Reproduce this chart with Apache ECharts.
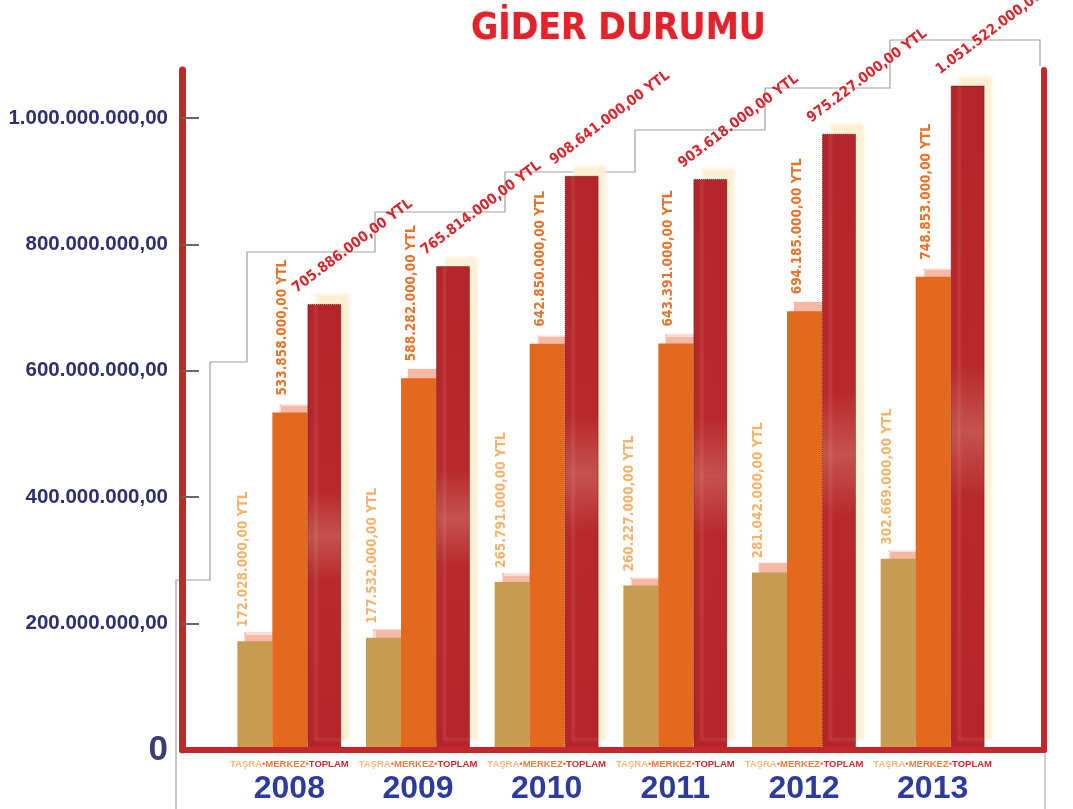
<!DOCTYPE html>
<html><head><meta charset="utf-8">
<script src="https://cdn.jsdelivr.net/npm/echarts@6/dist/echarts.min.js"></script>
<style>html,body{margin:0;padding:0;background:#fff}#c{width:1073px;height:809px}</style>
</head><body><div id="c"></div>
<script>
// ---- data ----
const years = ['2008','2009','2010','2011','2012','2013'];
const tasra = [172028000,177532000,265791000,260227000,281042000,302669000];
const merkez = [533858000,588282000,642850000,643391000,694185000,748853000];
const toplam = [705886000,765814000,908641000,903618000,975227000,1051522000];
const yTicks = [0,200000000,400000000,600000000,800000000,1000000000];
const titleText = 'GİDER DURUMU';
const legendWords = ['TAŞRA','MERKEZ','TOPLAM'];
const unit = 'YTL';

function fmt(v){
  const s = Math.round(v).toString().replace(/\B(?=(\d{3})+(?!\d))/g,'.');
  return s + ',00';
}
const YMAX = 1076000000;
const chart = echarts.init(document.getElementById('c'), null, {renderer:'canvas'});
const condensed = '"DejaVu Sans Condensed","DejaVu Sans"';

const barLabelBase = {show:true, position:'top', rotate:90, align:'left', verticalAlign:'middle',
  distance:0, fontFamily:condensed, fontWeight:'bold', fontSize:13.5,
  formatter:p=>fmt(p.value)+' '+unit};

// decorative stepped outline behind the labels (background frame)
const stairPts = [[176,809],[176,580],[210,580],[210,362],[247,362],[247,252],[375,252],[375,212],
  [505,212],[505,172],[635,172],[635,130],[765,130],[765,88],[890,88],[890,40],[1040,40],[1040,66]];

const option = {
  animation:false,
  backgroundColor:'#ffffff',
  title:{text:titleText, left:466, top:6,
    textStyle:{fontFamily:condensed, fontWeight:'bold', fontSize:37,
      color:'#e3232c', textShadowColor:'rgba(120,0,0,0.35)', textShadowBlur:2}},
  graphic:[
    {type:'polyline', z:0, silent:true, shape:{points:stairPts}, style:{stroke:'#a0a0a0', lineWidth:1.2, fill:null}},
    {type:'line', z:0, silent:true, shape:{x1:1045,y1:750,x2:1045,y2:809}, style:{stroke:'#b0b0b0', lineWidth:1.2}}
  ],
  grid:[{left:182,right:29,top:70,bottom:59},{left:225,right:76,top:70,bottom:59}],
  xAxis:[
    {gridIndex:0,type:'value',min:0,max:1,z:5,
     axisLine:{show:true,onZero:false,lineStyle:{color:'#c1272d',width:6}},
     axisTick:{show:false},axisLabel:{show:false},splitLine:{show:false}},
    {gridIndex:1,type:'category',data:years,
     axisLine:{show:false},axisTick:{show:false},
     axisLabel:{margin:8,interval:0,
       formatter:v=>`{a|${legendWords[0]}}{b|•${legendWords[1]}•}{c|${legendWords[2]}}\n{y|${v}}`,
       rich:{
         a:{fontSize:9.5,fontWeight:'bold',color:'#f6b97e',fontFamily:'Liberation Sans',lineHeight:12},
         b:{fontSize:9.5,fontWeight:'bold',color:'#ee7d42',fontFamily:'Liberation Sans',lineHeight:12},
         c:{fontSize:9.5,fontWeight:'bold',color:'#d6292c',fontFamily:'Liberation Sans',lineHeight:12},
         y:{fontSize:32,fontWeight:'bold',color:'#2d3a9e',fontFamily:'Liberation Sans',lineHeight:38}
       }}}
  ],
  yAxis:[
    {gridIndex:0,type:'value',min:0,max:YMAX,position:'left',
     axisLine:{show:true,onZero:false,lineStyle:{color:'#c1272d',width:7}},
     axisTick:{show:true,inside:true,length:17,customValues:yTicks,lineStyle:{color:'#666',width:2}},
     axisLabel:{customValues:yTicks,margin:14,color:'#2d2f70',fontFamily:'Liberation Sans',
       fontWeight:'bold',fontSize:20.5,
       formatter:v=> v===0 ? '{z|0}' : fmt(v),
       rich:{z:{fontSize:35,fontWeight:'bold',color:'#3a3c78',fontFamily:'Liberation Sans'}}},
     splitLine:{show:false}},
    {gridIndex:0,type:'value',min:0,max:YMAX,position:'right',
     axisLine:{show:true,onZero:false,lineStyle:{color:'#c1272d',width:6}},
     axisTick:{show:false},axisLabel:{show:false},splitLine:{show:false}},
    {gridIndex:1,type:'value',min:0,max:YMAX,show:false}
  ],
  series:[
    {name:legendWords[0],type:'bar',xAxisIndex:1,yAxisIndex:2,data:tasra,barWidth:35,barGap:'0%',
     itemStyle:{color:'#c89c50',shadowColor:'#f7b9a6',shadowOffsetX:7,shadowOffsetY:-9,shadowBlur:1},
     label:Object.assign({},barLabelBase,{color:'#f5b46c',offset:[14,-11]})},
    {name:legendWords[1],type:'bar',xAxisIndex:1,yAxisIndex:2,data:merkez,barWidth:35,barGap:'0%',
     itemStyle:{color:'#e3691f',shadowColor:'#f7b9a6',shadowOffsetX:7,shadowOffsetY:-9,shadowBlur:1},
     label:Object.assign({},barLabelBase,{color:'#e8742c',offset:[17,-7]})},
    {name:legendWords[2],type:'bar',xAxisIndex:1,yAxisIndex:2,data:toplam,barWidth:34,barGap:'0%',
     itemStyle:{
       color:new echarts.graphic.LinearGradient(0,0,0,1,[
         {offset:0,color:'#b5242a'},{offset:0.42,color:'#b8282c'},
         {offset:0.52,color:'#c4524f'},{offset:0.62,color:'#b8292d'},{offset:1,color:'#b5242a'}]),
       borderColor:'rgba(50,5,5,0.7)',borderWidth:1,borderType:'dotted',
       shadowColor:'#fcefd2',shadowOffsetX:8,shadowOffsetY:-10,shadowBlur:3},
     label:{show:true,position:'top',rotate:37,align:'left',verticalAlign:'middle',distance:0,offset:[-15.6,-29.2],
       color:'#d8262c',fontFamily:condensed,fontWeight:'bold',fontSize:14.5,
       formatter:p=>fmt(p.value)+' '+unit}}
  ]
};
chart.setOption(option);
</script></body></html>
